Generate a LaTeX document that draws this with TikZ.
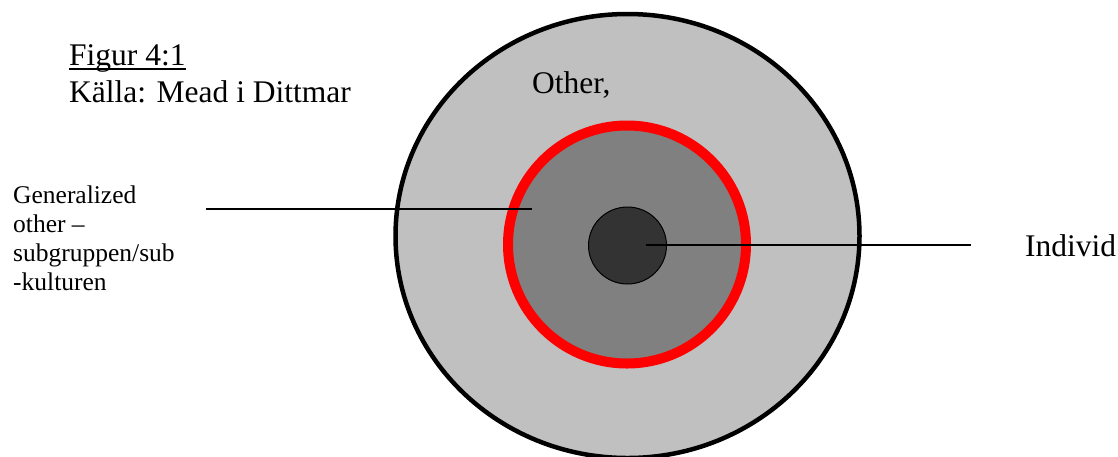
\documentclass[tikz,border=0pt]{standalone}
\usepackage{fontspec}
\setmainfont{Liberation Serif}
\usetikzlibrary{shapes.geometric}
\definecolor{lightgr}{RGB}{192,192,192}
\definecolor{midgr}{RGB}{128,128,128}
\definecolor{darkgr}{RGB}{51,51,51}
\definecolor{ringred}{RGB}{255,0,0}
\begin{document}
\begin{tikzpicture}[x=1pt,y=-1pt,
  bigtext/.style={font=\fontsize{31.5}{36}\selectfont, inner sep=0pt, anchor=base west},
  smalltext/.style={font=\fontsize{25.5}{29}\selectfont, inner sep=0pt, anchor=north west, align=left},
  leader/.style={draw=black, line width=1.8pt}]
\useasboundingbox (0,0) rectangle (1118,456);
\fill[white] (0,0) rectangle (1118,456);
% circles
\node[ellipse, draw=black, line width=4.5pt, fill=lightgr, minimum width=464pt, minimum height=444pt, inner sep=0pt] (outer) at (627.5,236) {};
\node[circle, draw=ringred, line width=10pt, fill=midgr, minimum size=238pt, inner sep=0pt] (ring) at (627,244.5) {};
\node[ellipse, draw=black, line width=1pt, fill=darkgr, minimum width=78pt, minimum height=77pt, inner sep=0pt] (core) at (627.5,245.5) {};
% texts
\node[bigtext] (fig) at (69,65) {Figur 4:1};
\draw[line width=2pt] ([yshift=-4pt]fig.base west) -- ([yshift=-4pt]fig.base east);
\node[bigtext] (src) at (69,102) {Källa: Mead i Dittmar};
\node[bigtext] (other) at (532,93) {Other,};
\node[bigtext] (indiv) at (1025,256.5) {Individ};
\node[smalltext] (gen) at (13,186) {Generalized\\other –\\subgruppen/sub\\-kulturen};
% leaders
\coordinate (genend) at (531.7,209.3);
\coordinate (genstart) at (206,209.3);
\coordinate (indstart) at (971,245.3);
\coordinate (indend) at (646,245.3);
\draw[leader] (genstart) -- (genend);
\draw[leader] (indstart) -- (indend);
\end{tikzpicture}
\end{document}
